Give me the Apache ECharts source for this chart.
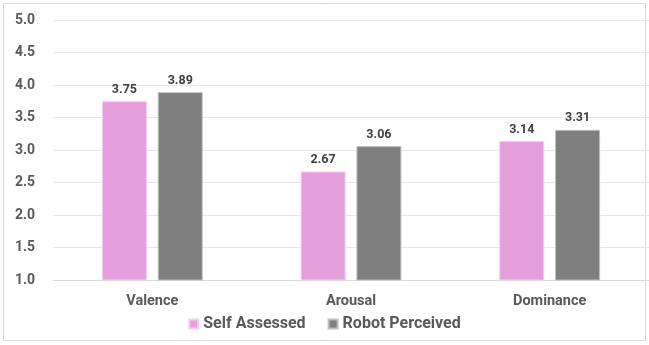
<!DOCTYPE html>
<html>
<head>
<meta charset="utf-8">
<script src="https://cdn.jsdelivr.net/npm/echarts@6/dist/echarts.min.js"></script>
<style>
  html, body { margin: 0; padding: 0; background: #fff; }
  #chart { width: 649px; height: 345px; }
</style>
</head>
<body>
<div id="chart"></div>
<script>
var categories = ['Valence', 'Arousal', 'Dominance'];
var selfAssessed = [3.75, 2.67, 3.14];
var robotPerceived = [3.89, 3.06, 3.31];
var seriesNames = ['Self Assessed', 'Robot Perceived'];

var myChart = echarts.init(document.getElementById('chart'));
var font = 'Roboto';
var option = {
  animation: false,
  graphic: [{
    type: 'rect',
    shape: { x: 3.5, y: 3.5, width: 642, height: 337 },
    style: { fill: 'none', stroke: '#d9d9d9', lineWidth: 1 }
  }],
  grid: { left: 53, right: -3, top: 20, bottom: 65 },
  legend: {
    bottom: 8,
    left: 'center',
    itemWidth: 9,
    itemHeight: 9,
    itemGap: 22,
    icon: 'rect',
    textStyle: { color: '#595959', fontSize: 16, fontWeight: 'bold', fontFamily: font },
    data: seriesNames
  },
  xAxis: {
    type: 'category',
    data: categories,
    axisLine: { lineStyle: { color: '#d9d9d9' } },
    axisTick: { show: false },
    axisLabel: { color: '#595959', fontSize: 14.5, fontWeight: 'bold', fontFamily: font, margin: 14 }
  },
  yAxis: {
    type: 'value',
    min: 1,
    max: 5,
    interval: 0.5,
    axisLine: { show: false },
    axisTick: { show: false },
    splitLine: { lineStyle: { color: '#e6e6e6' } },
    axisLabel: {
      color: '#595959', fontSize: 14, fontWeight: 'bold', fontFamily: font, margin: 18,
      formatter: function (v) { return v.toFixed(1); }
    }
  },
  series: [{
    name: seriesNames[0],
    type: 'bar',
    data: selfAssessed,
    barWidth: 45,
    barGap: '24%',
    itemStyle: { color: '#e49edc', borderColor: '#f2d0ee', borderWidth: 1 },
    label: {
      show: true, position: 'top', distance: 5, color: '#404040',
      fontSize: 12.5, fontWeight: 'bold', fontFamily: font,
      formatter: function (p) { return p.value.toFixed(2); }
    }
  }, {
    name: seriesNames[1],
    type: 'bar',
    data: robotPerceived,
    barWidth: 45,
    itemStyle: { color: '#7f7f7f', borderColor: '#bfbfbf', borderWidth: 1 },
    label: {
      show: true, position: 'top', distance: 5, color: '#404040',
      fontSize: 12.5, fontWeight: 'bold', fontFamily: font,
      formatter: function (p) { return p.value.toFixed(2); }
    }
  }]
};
myChart.setOption(option);
</script>
</body>
</html>
